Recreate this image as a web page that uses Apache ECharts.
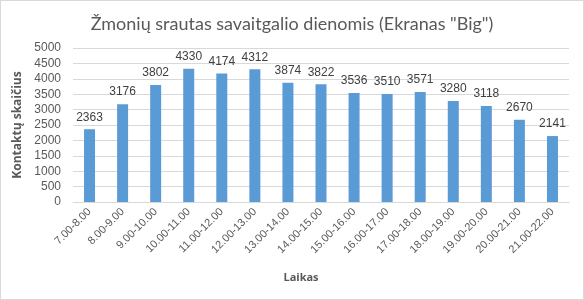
<!DOCTYPE html>
<html><head><meta charset="utf-8">
<script src="https://cdn.jsdelivr.net/npm/echarts@6/dist/echarts.min.js"></script>
<style>html,body{margin:0;padding:0;background:#fff}#c{width:584px;height:300px;box-sizing:border-box;border:1px solid #d9d9d9}</style>
</head><body><div id="c"></div>
<script>
const categories = ["7.00-8.00","8.00-9.00","9.00-10.00","10.00-11.00","11.00-12.00","12.00-13.00","13.00-14.00","14.00-15.00","15.00-16.00","16.00-17.00","17.00-18.00","18.00-19.00","19.00-20.00","20.00-21.00","21.00-22.00"];
const values = [2363,3176,3802,4330,4174,4312,3874,3822,3536,3510,3571,3280,3118,2670,2141];
const chart = echarts.init(document.getElementById('c'), null, {renderer:'canvas'});
chart.setOption({
  animation:false,
  title:{text:'Žmonių srautas savaitgalio dienomis (Ekranas "Big")',left:'center',top:9,
    textStyle:{fontFamily:'Lato',fontSize:18,fontWeight:'normal',color:'#595959'}},
  grid:{left:72,right:14,top:47,bottom:97},
  xAxis:{type:'category',data:categories,
    name:'Laikas',nameLocation:'middle',nameGap:70,
    nameTextStyle:{fontFamily:'Open Sans',fontWeight:'bold',fontSize:11,color:'#595959',padding:[0,40,0,0]},
    axisLine:{lineStyle:{color:'#d9d9d9'}},axisTick:{show:false},
    axisLabel:{rotate:45,interval:0,fontFamily:'Liberation Sans',fontSize:11,color:'#595959',margin:8}},
  yAxis:{type:'value',min:0,max:5000,interval:500,
    name:'Kontaktų skaičius',nameLocation:'middle',nameGap:45,
    nameTextStyle:{fontFamily:'Open Sans',fontWeight:'bold',fontSize:12,color:'#595959'},
    axisLine:{show:false},axisTick:{show:false},
    splitLine:{lineStyle:{color:'#d9d9d9'}},
    axisLabel:{fontFamily:'Liberation Sans',fontSize:12,color:'#595959',margin:12,formatter:v=>String(v)}},
  series:[{type:'bar',data:values,barWidth:11,itemStyle:{color:'#5b9bd5'},
    label:{show:true,position:'top',distance:6,fontFamily:'Liberation Sans',fontSize:12,color:'#404040'}}]
});
</script></body></html>
